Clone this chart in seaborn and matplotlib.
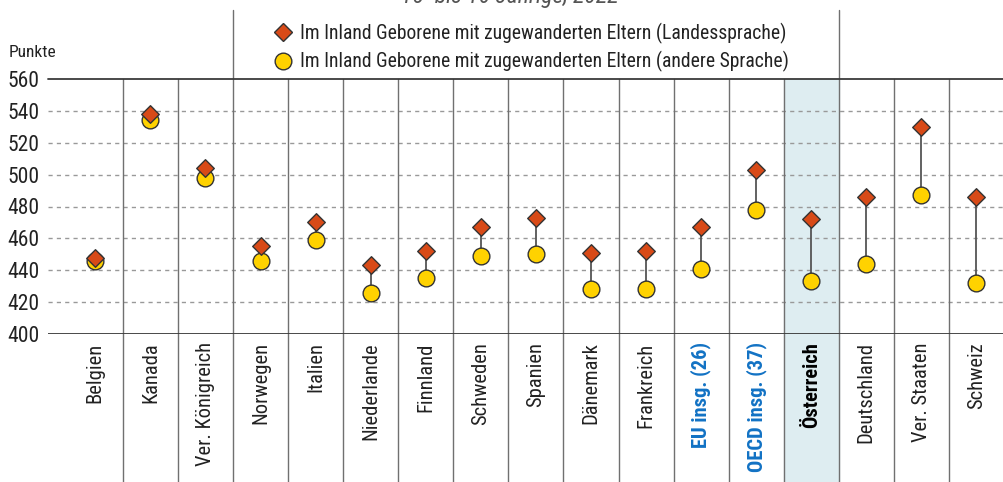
import numpy as np
import pandas as pd
import matplotlib
matplotlib.use("Agg")
import matplotlib.pyplot as plt
from matplotlib.lines import Line2D
from matplotlib import font_manager
import seaborn as sns

# data (PISA-Punkte)
laender = ["Belgien", "Kanada", "Ver. Königreich", "Norwegen", "Italien", "Niederlande",
           "Finnland", "Schweden", "Spanien", "Dänemark", "Frankreich", "EU insg. (26)",
           "OECD insg. (37)", "Österreich", "Deutschland", "Ver. Staaten", "Schweiz"]
landessprache = [448, 538, 504, 455, 470, 443, 452, 467, 473, 451, 452, 467, 503, 472, 486, 530, 486]
andere_sprache = [446, 534, 498, 446, 459, 426, 435, 449, 450, 428, 428, 441, 478, 433, 444, 487, 432]
y_ticks = [400, 420, 440, 460, 480, 500, 520, 540, 560]

label_landes = "Im Inland Geborene mit zugewanderten Eltern (Landessprache)"
label_andere = "Im Inland Geborene mit zugewanderten Eltern (andere Sprache)"
titel = "15- bis 16-Jährige, 2022"

df = pd.DataFrame({"land": laender, "landes": landessprache, "andere": andere_sprache})

sns.set_style("white")
installed = {f.name for f in font_manager.fontManager.ttflist}
narrow = [f for f in ["Liberation Sans Narrow", "Roboto Condensed", "Open Sans Condensed"] if f in installed]
plt.rcParams["font.family"] = narrow + ["Lato", "DejaVu Sans"]
scale = 1.0 if narrow else 0.9

ORANGE = "#d84a17"
GELB = "#ffd200"
BLAU = "#1272c4"
DUNKEL = "#3a3a3a"

fig = plt.figure(figsize=(10.04, 4.82), dpi=100)
ax = fig.add_axes([48 / 1004, 1 - 334 / 482, 1 - 48 / 1004, 255 / 482])

n = len(laender)
pos = np.arange(n)
below = -(482 - 334) / 255  # axes fraction of figure bottom

# highlight Österreich
i_at = laender.index("Österreich")
ax.axvspan(i_at - 0.5, i_at + 0.5, ymin=below, ymax=1, color="#deedf1", zorder=0, clip_on=False)

# gridlines
for v in y_ticks[1:-1]:
    ax.axhline(v, color="#999999", lw=1, ls=(0, (3, 3)), zorder=1)
ax.axhline(400, color=DUNKEL, lw=1.3, zorder=3)
ax.axhline(560, color=DUNKEL, lw=1.3, zorder=3, clip_on=False)

# column separators
for k in range(n - 1):
    top = 1.0
    if k in (2, 13):
        top = (334 - 10) / 255
    ax.axvline(k + 0.5, ymin=below, ymax=top, color="#707070", lw=1, clip_on=False, zorder=2)

# connector lines
ax.vlines(pos, df["andere"], df["landes"], color="#555555", lw=1.3, zorder=3)

sns.scatterplot(data=df, x="land", y="andere", marker="o", s=145, color=GELB,
                edgecolor="#333333", linewidth=1, ax=ax, zorder=4)
sns.scatterplot(data=df, x="land", y="landes", marker="D", s=80, color=ORANGE,
                edgecolor="#333333", linewidth=1, ax=ax, zorder=5)

ax.set_xlim(-0.86, n - 0.5)
ax.set_ylim(400, 560)
ax.set_yticks(y_ticks)
ax.set_yticklabels([str(v) for v in y_ticks], fontsize=15.5 * scale, color="#222222")
ax.set_xticks(pos)
ax.set_xticklabels(laender, rotation=90, fontsize=14.8 * scale, va="top", ha="center")
ax.tick_params(axis="both", length=0)
ax.tick_params(axis="x", pad=6)
ax.tick_params(axis="y", pad=6)
for lab in ax.get_xticklabels():
    t = lab.get_text()
    if "insg." in t:
        lab.set_color(BLAU)
        lab.set_fontweight("bold")
    elif t == "Österreich":
        lab.set_fontweight("bold")
        lab.set_color("black")
    else:
        lab.set_color("#222222")
ax.set_xlabel("")
ax.set_ylabel("")
for s in ax.spines.values():
    s.set_visible(False)

fig.text(9 / 1004, 1 - 57 / 482, "Punkte", fontsize=12.5 * scale, color="#222222", va="baseline")
fig.text(510 / 1004, 1 - 3 / 482, titel, fontsize=17, style="italic", color="#555555",
         ha="center", va="baseline")

handles = [
    Line2D([], [], marker="D", ls="", markersize=9, markerfacecolor=ORANGE, markeredgecolor="#333333"),
    Line2D([], [], marker="o", ls="", markersize=12, markerfacecolor=GELB, markeredgecolor="#333333"),
]
fig.legend(handles, [label_landes, label_andere], loc="upper left",
           bbox_to_anchor=(264 / 1004, 1 - 15 / 482), frameon=False, fontsize=14.1 * scale,
           handletextpad=0.35, labelspacing=0.38, handlelength=1.1, borderaxespad=0,
           labelcolor="#222222")

plt.savefig("out.png", dpi=100)
plt.close()
